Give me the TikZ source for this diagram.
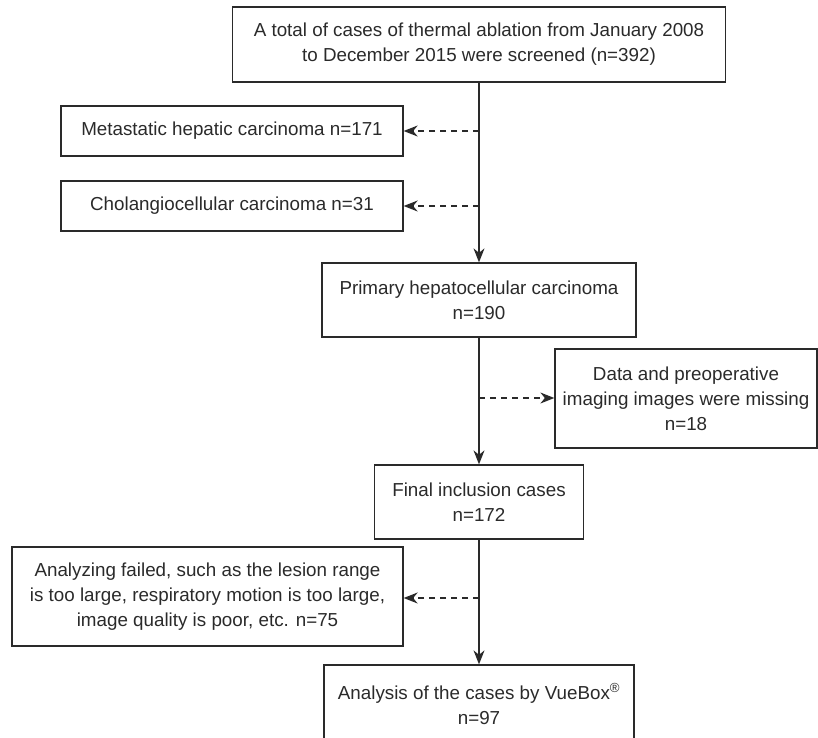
\documentclass[tikz,border=0pt]{standalone}
\usepackage{fontspec}
\setmainfont{Liberation Sans}
\usetikzlibrary{arrows.meta}
\definecolor{ink}{HTML}{2A2A2A}
\begin{document}
\begin{tikzpicture}[x=1pt,y=-1pt,
  box/.style={draw=ink,line width=1.3pt,rectangle,inner sep=0pt,align=center,
    text=ink,font=\fontsize{18.8pt}{25pt}\selectfont},
  flow/.style={draw=ink,line width=1.4pt,-{Stealth[length=14pt,width=11pt,inset=4.5pt]}},
  side/.style={draw=ink,line width=1.4pt,dash pattern=on 6pt off 5pt,-{Stealth[length=14pt,width=11pt,inset=4.5pt]}}]
\useasboundingbox (0,0) rectangle (818,737);
\node[box,minimum width=493pt,minimum height=75pt] (top) at (479,44.5)
  {A total of cases of thermal ablation from January 2008\\to December 2015 were screened (n=392)};
\node[box,minimum width=342pt,minimum height=50pt] (meta) at (232,131)
  {Metastatic hepatic carcinoma n=171};
\node[box,minimum width=342pt,minimum height=50pt] (chol) at (232,206)
  {Cholangiocellular carcinoma n=31};
\node[box,minimum width=314pt,minimum height=74pt] (prim) at (479,300)
  {Primary hepatocellular carcinoma\\n=190};
\node[box,minimum width=262pt,minimum height=99pt] (data) at (686,398.5)
  {Data and preoperative\\imaging images were missing\\n=18};
\node[box,minimum width=209pt,minimum height=74pt] (final) at (479,502)
  {Final inclusion cases\\n=172};
\node[box,minimum width=391pt,minimum height=99pt] (fail) at (207.5,596.5)
  {Analyzing failed, such as the lesion range\\is too large, respiratory motion is too large,\\image quality is poor, etc. n=75};
\node[box,minimum width=310pt,minimum height=78pt] (vue) at (479,704)
  {Analysis of the cases by VueBox\textsuperscript{®}\\n=97};
\coordinate (j1) at (479,131);
\coordinate (j2) at (479,206);
\coordinate (j3) at (479,398);
\coordinate (j4) at (479,598);
\draw[flow] (top.south) -- (prim.north);
\draw[side] (j1) -- (meta.east |- j1);
\draw[side] (j2) -- (chol.east |- j2);
\draw[flow] (prim.south) -- (final.north);
\draw[side] (j3) -- (data.west |- j3);
\draw[flow] (final.south) -- (vue.north);
\draw[side] (j4) -- (fail.east |- j4);
\end{tikzpicture}
\end{document}
